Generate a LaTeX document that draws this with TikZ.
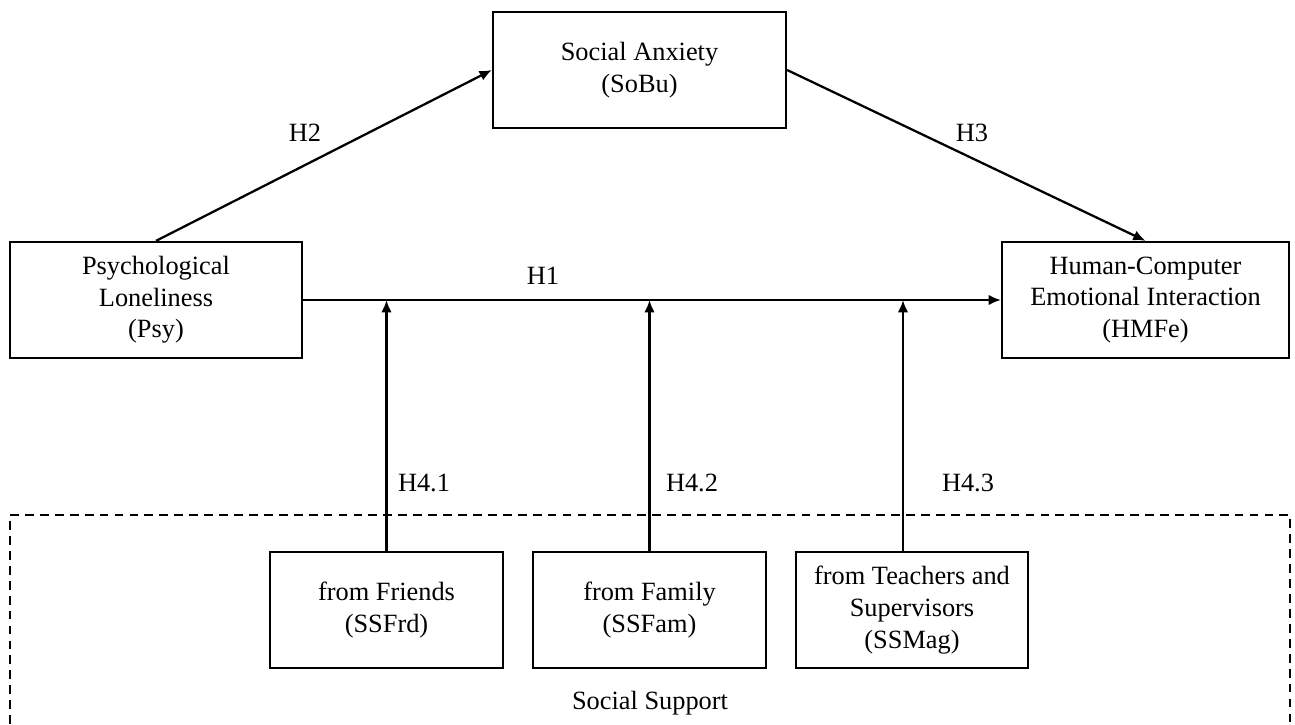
\documentclass[tikz,border=0pt]{standalone}
\usepackage{fontspec}
\setmainfont{Liberation Serif}
\usepackage{tikz}
\usetikzlibrary{arrows.meta}
\usetikzlibrary{shapes,positioning}

\tikzset{
    varbox/.style={draw, line width=1.3pt, align=center, inner sep=0pt,
        minimum height=2.32cm},
    hyp/.style={line width=1.3pt, -{Latex[length=7pt,width=6pt]}},
    hlabel/.style={inner sep=0pt}
}

\begin{document}
\begin{tikzpicture}[x=0.02cm, y=-0.02cm, font=\fontsize{15}{18}\selectfont]
        \useasboundingbox (0,0) rectangle (1295,724);
        % variables
        \node[varbox, minimum width=5.86cm] (sobu) at (639.5,70) {Social Anxiety\\(SoBu)};
        \node[varbox, minimum width=5.84cm] (psy) at (156,300) {Psychological\\Loneliness\\(Psy)};
        \node[varbox, minimum width=5.74cm] (hmfe) at (1145.5,300) {Human-Computer\\Emotional Interaction\\(HMFe)};
        % social support
        \node[varbox, minimum width=4.66cm] (frd) at (386.5,610) {from Friends\\(SSFrd)};
        \node[varbox, minimum width=4.66cm] (fam) at (649.5,610) {from Family\\(SSFam)};
        \node[varbox, minimum width=4.64cm] (mag) at (912,610) {from Teachers and\\Supervisors\\(SSMag)};
        \draw[line width=1.3pt, dash pattern=on 5pt off 3.5pt]
            (10,724) |- (1290,515) -- (1290,724);
        \node[hlabel] (ss) at (650,703) {Social Support};
        % hypotheses
        \draw[hyp] (psy.north) -- (sobu.west);
        \draw[hyp] (sobu.east) -- (hmfe.north);
        \draw[hyp] (psy.east) -- (hmfe.west);
        \coordinate (m1) at (psy.east -| frd.north);
        \coordinate (m2) at (psy.east -| fam.north);
        \coordinate (m3) at ([xshift=-0.18cm]psy.east -| mag.north);
        \draw[hyp] (frd.north) -- (m1);
        \draw[hyp] (fam.north) -- (m2);
        \draw[hyp] ([xshift=-0.18cm]mag.north) -- (m3);
        \node[hlabel] (h1) at (543,276) {H1};
        \node[hlabel] (h2) at (305,133) {H2};
        \node[hlabel] (h3) at (972,133) {H3};
        \node[hlabel] (h41) at (424,483) {H4.1};
        \node[hlabel] (h42) at (692,483) {H4.2};
        \node[hlabel] (h43) at (968,483) {H4.3};
    \end{tikzpicture}
\end{document}
